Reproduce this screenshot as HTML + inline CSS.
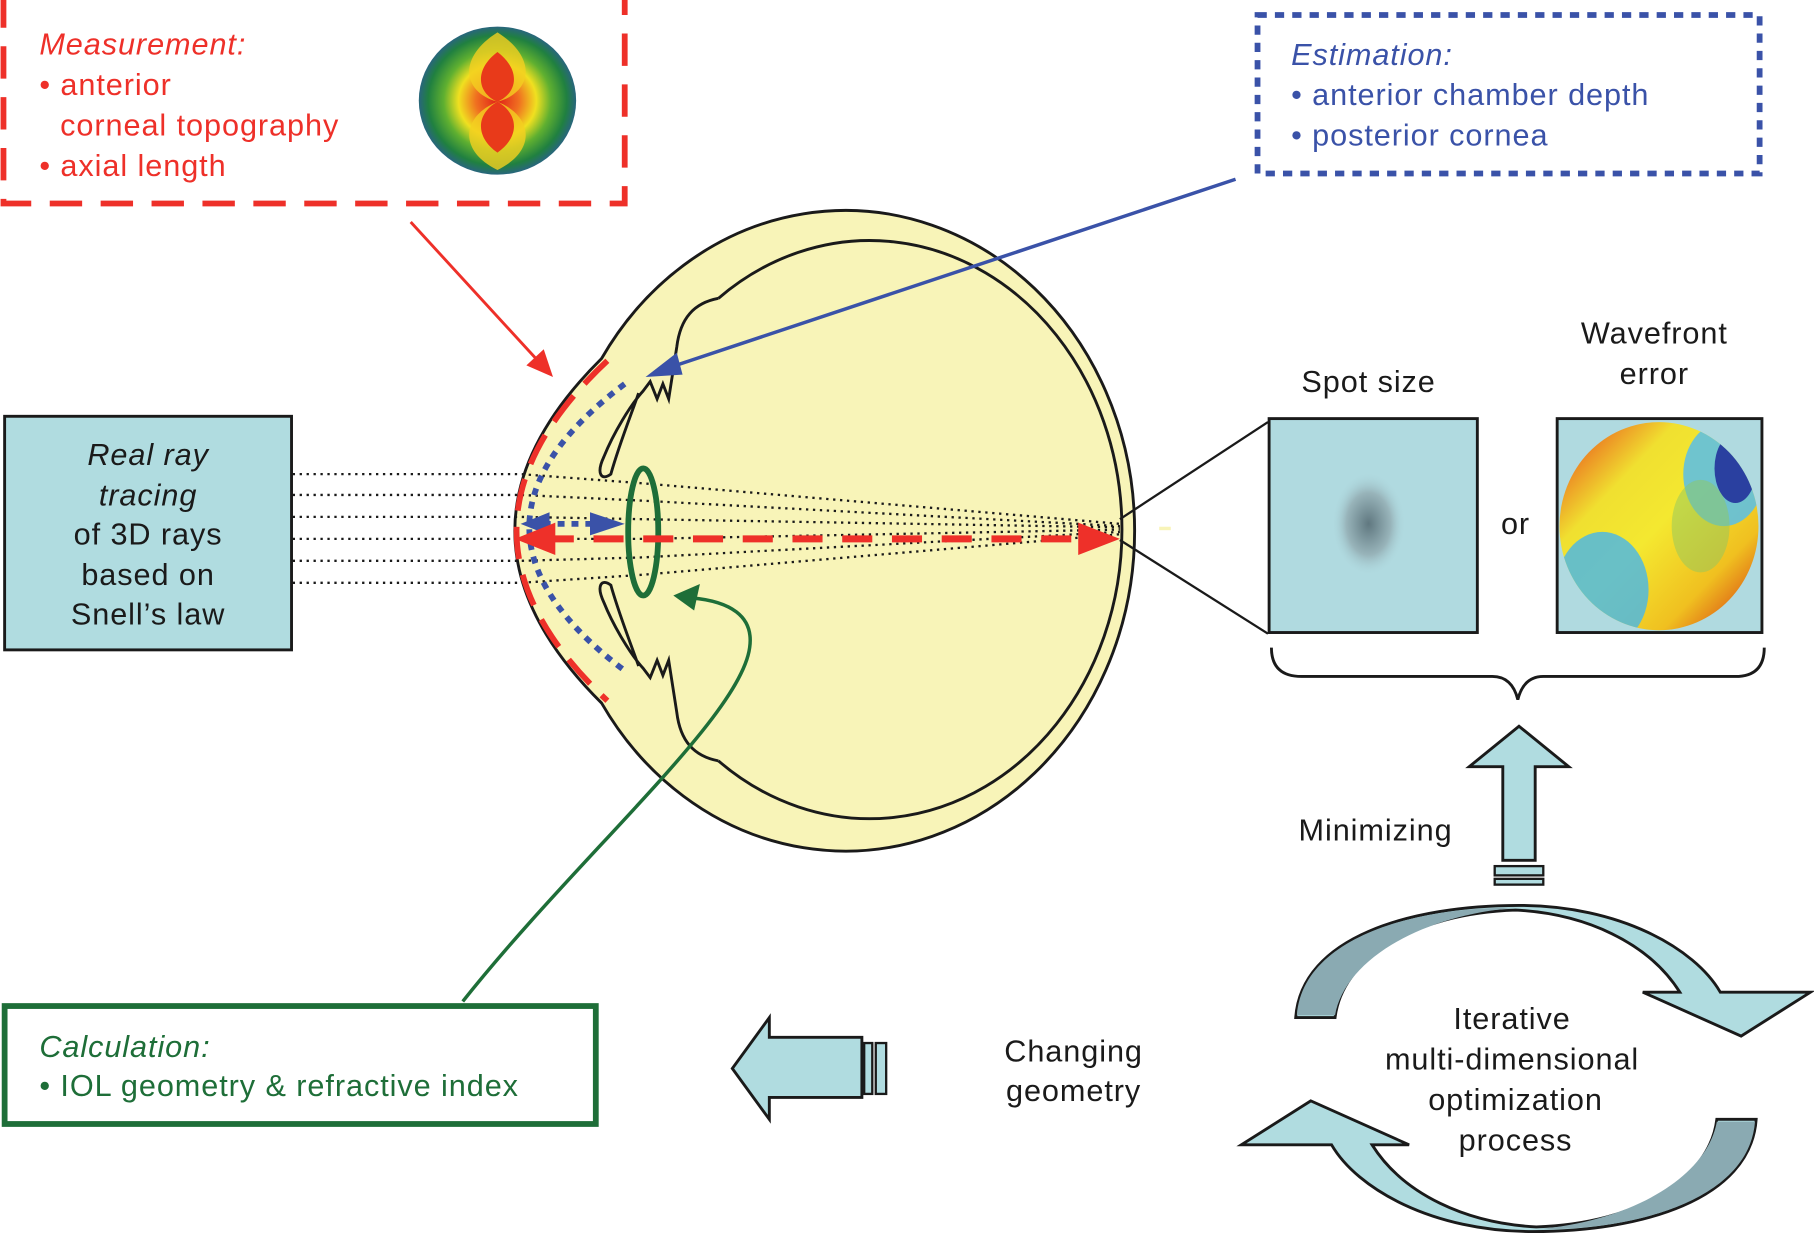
<!DOCTYPE html>
<html><head><meta charset="utf-8"><style>
html,body{margin:0;padding:0;background:#fff;}
svg{display:block;}
text{font-family:"Liberation Sans",Arial,sans-serif;letter-spacing:0.8px;}
</style></head><body>
<svg width="1814" height="1235" viewBox="0 0 1568 1068" preserveAspectRatio="none" xmlns="http://www.w3.org/2000/svg">
<defs>
<radialGradient id="topo" cx="50%" cy="50%" r="55%">
<stop offset="0" stop-color="#e02018"/><stop offset="0.25" stop-color="#f07020"/><stop offset="0.45" stop-color="#f0e020"/><stop offset="0.62" stop-color="#60b030"/><stop offset="0.8" stop-color="#208040"/><stop offset="1" stop-color="#3050b0"/>
</radialGradient>
<linearGradient id="wf" x1="0" y1="0" x2="1" y2="1">
<stop offset="0" stop-color="#e83018"/><stop offset="0.3" stop-color="#f0e030"/><stop offset="0.5" stop-color="#f4e830"/><stop offset="0.75" stop-color="#f0c020"/><stop offset="1" stop-color="#d02010"/>
</linearGradient>
<radialGradient id="spot" cx="50%" cy="50%" r="50%"><stop offset="0" stop-color="#607880"/><stop offset="0.6" stop-color="#98b4ba"/><stop offset="1" stop-color="#b0dae0" stop-opacity="0"/></radialGradient>
</defs>

<!-- Measurement box -->
<rect x="3" y="-6" width="537" height="182" fill="none" stroke="#ee3029" stroke-width="5" stroke-dasharray="28,16"/>
<g font-size="26.5" fill="#ee3029">
<text x="34" y="47" font-style="italic">Measurement:</text>
<text x="34" y="82">• anterior</text>
<text x="52" y="117">corneal topography</text>
<text x="34" y="152">• axial length</text>
</g>
<ellipse cx="430" cy="87" rx="68" ry="64" fill="url(#topo)"/>
<path d="M430,28 C395,50 400,80 430,88 C400,100 395,130 430,147 C465,130 460,100 430,88 C460,80 465,50 430,28z" fill="#f4d020" opacity="0.8"/>
<path d="M430,45 C410,60 412,80 430,88 C412,98 410,118 430,132 C450,118 448,98 430,88 C448,80 450,60 430,45z" fill="#e83a1a"/>

<!-- Estimation box -->
<rect x="1087" y="13" width="434" height="137" fill="none" stroke="#3a52a8" stroke-width="5" stroke-dasharray="8,7"/>
<g font-size="26.5" fill="#3a52a8">
<text x="1116" y="56" font-style="italic">Estimation:</text>
<text x="1116" y="91">• anterior chamber depth</text>
<text x="1116" y="126">• posterior cornea</text>
</g>

<!-- Eye -->
<path d="M520,310 A250,277 0 1 1 520,608 Q370,459 520,310z" fill="#f8f4b8" stroke="#1a1a1a" stroke-width="2.5"/>
<path d="M621,258 A218,250 0 1 1 621,658" fill="none" stroke="#1a1a1a" stroke-width="2.5"/>
<path d="M621,258 C600,262 588,275 585,300 L578,345 L573,332 L568,345 L562,330 L556,338 C545,350 530,375 522,395 C515,410 520,416 528,410 C535,385 545,360 552,340" fill="none" stroke="#1a1a1a" stroke-width="2.5"/>
<path d="M621,658 C600,654 588,641 585,616 L578,571 L573,584 L568,571 L562,586 L556,578 C545,566 530,541 522,521 C515,506 520,500 528,506 C535,531 545,556 552,576" fill="none" stroke="#1a1a1a" stroke-width="2.5"/>

<!-- rays -->
<g stroke="#1a1a1a" stroke-width="2" stroke-dasharray="2,4" fill="none">
<path d="M253,410 L450,410 L556,418 L968,453"/>
<path d="M253,428 L450,428 L556,433 L968,455"/>
<path d="M253,447 L450,447 L556,449 L968,456"/>
<path d="M253,466 L450,466 L556,466 L968,458"/>
<path d="M253,485 L450,485 L556,482 L968,460"/>
<path d="M253,504 L450,504 L556,497 L968,462"/>
</g>

<path d="M525,312 Q368,459 525,606" fill="none" stroke="#ee3029" stroke-width="5" stroke-dasharray="28,14"/>
<path d="M540,332 Q375,456 540,580" fill="none" stroke="#3a52a8" stroke-width="5" stroke-dasharray="6,6"/>

<ellipse cx="556" cy="460" rx="13" ry="55" fill="none" stroke="#1e6e38" stroke-width="5"/>

<line x1="470" y1="453" x2="515" y2="453" stroke="#3a52a8" stroke-width="5" stroke-dasharray="6,6"/>
<path d="M450,453 L475,443 L475,463z" fill="#3a52a8"/>
<path d="M540,453 L510,443 L510,463z" fill="#3a52a8"/>

<line x1="470" y1="466" x2="940" y2="466" stroke="#ee3029" stroke-width="6" stroke-dasharray="26,17"/>
<path d="M445,466 L480,452 L480,480z" fill="#ee3029"/>
<path d="M968,466 L932,452 L932,480z" fill="#ee3029"/>

<line x1="355" y1="192" x2="465" y2="312" stroke="#ee3029" stroke-width="2.5"/>
<path d="M478,326 L455,316 L470,302z" fill="#ee3029"/>
<line x1="1068" y1="155" x2="578" y2="318" stroke="#3a52a8" stroke-width="3"/>
<path d="M558,326 L585,305 L590,324z" fill="#3a52a8"/>
<path d="M400,866 C500,740 640,620 648,560 C652,532 630,520 598,517" fill="none" stroke="#1e6e38" stroke-width="3"/>
<path d="M582,515 L605,505 L600,528z" fill="#1e6e38"/>

<!-- Real ray tracing box -->
<rect x="4" y="360" width="248" height="202" fill="#b0dce0" stroke="#1a1a1a" stroke-width="2.5"/>
<g font-size="26.5" fill="#1a1a1a" text-anchor="middle">
<text x="128" y="402" font-style="italic">Real ray</text>
<text x="128" y="437" font-style="italic">tracing</text>
<text x="128" y="471">of 3D rays</text>
<text x="128" y="506">based on</text>
<text x="128" y="540">Snell’s law</text>
</g>

<line x1="968" y1="449" x2="1096" y2="365" stroke="#1a1a1a" stroke-width="2"/>
<line x1="968" y1="467" x2="1096" y2="548" stroke="#1a1a1a" stroke-width="2"/>
<line x1="1002" y1="457" x2="1012" y2="457" stroke="#f8f4b8" stroke-width="3"/>

<text x="1183" y="339" font-size="26.5" text-anchor="middle" fill="#1a1a1a">Spot size</text>
<rect x="1097" y="362" width="180" height="185" fill="#b0dae0" stroke="#1a1a1a" stroke-width="2.5"/>
<ellipse cx="1183" cy="453" rx="32" ry="45" fill="url(#spot)"/>
<text x="1310" y="462" font-size="26.5" text-anchor="middle" fill="#1a1a1a">or</text>
<text x="1430" y="297" font-size="26.5" text-anchor="middle" fill="#1a1a1a">Wavefront</text>
<text x="1430" y="332" font-size="26.5" text-anchor="middle" fill="#1a1a1a">error</text>
<rect x="1346" y="362" width="177" height="185" fill="#b0dae0" stroke="#1a1a1a" stroke-width="2.5"/>
<clipPath id="wc"><ellipse cx="1434" cy="455" rx="86" ry="90"/></clipPath>
<g clip-path="url(#wc)">
<rect x="1346" y="362" width="177" height="185" fill="url(#wf)"/>
<ellipse cx="1490" cy="410" rx="35" ry="45" fill="#60c0e0" opacity="0.9"/>
<ellipse cx="1500" cy="405" rx="18" ry="30" fill="#2a40a0"/>
<ellipse cx="1385" cy="510" rx="40" ry="50" fill="#50b8e0" opacity="0.85"/>
<ellipse cx="1470" cy="455" rx="25" ry="40" fill="#90c860" opacity="0.5"/>
</g>
<path d="M1099,560 Q1099,585 1125,585 L1290,585 Q1307,585 1312,605 Q1317,585 1334,585 L1500,585 Q1525,585 1525,560" fill="none" stroke="#1a1a1a" stroke-width="2.5"/>

<path d="M1299,744 L1299,663 L1270,663 L1313,628 L1356,663 L1327,663 L1327,744z" fill="#b0dce0" stroke="#1a1a1a" stroke-width="2.5"/>
<rect x="1292" y="749" width="42" height="8" fill="#b0dce0" stroke="#1a1a1a" stroke-width="2"/>
<rect x="1292" y="760" width="42" height="5" fill="#b0dce0" stroke="#1a1a1a" stroke-width="2"/>
<text x="1189" y="727" font-size="26.5" text-anchor="middle" fill="#1a1a1a">Minimizing</text>

<g id="ca">
<path d="M1120,880 C1125,810 1220,783 1313,783 C1400,783 1465,820 1487,858 L1565,858 L1505,896 L1420,858 L1452,858 C1425,815 1370,790 1310,787 C1220,790 1160,830 1154,880z" fill="#b0dce0" stroke="#1a1a1a" stroke-width="2.5"/>
<path d="M1121,878 C1126,812 1220,784 1310,785 C1225,792 1162,832 1154,878z" fill="#8aaab2"/>
</g>
<use href="#ca" transform="rotate(180 1319 924)"/>
<g font-size="26.5" text-anchor="middle" fill="#1a1a1a">
<text x="1307" y="890">Iterative</text>
<text x="1307" y="925">multi-dimensional</text>
<text x="1310" y="960">optimization</text>
<text x="1310" y="995">process</text>
</g>

<path d="M745,897 L665,897 L665,880 L633,924 L665,968 L665,949 L745,949z" fill="#b0dce0" stroke="#1a1a1a" stroke-width="2.5"/>
<rect x="747" y="902" width="7" height="44" fill="#b0dce0" stroke="#1a1a1a" stroke-width="2"/>
<rect x="757" y="902" width="9" height="44" fill="#b0dce0" stroke="#1a1a1a" stroke-width="2"/>
<text x="928" y="918" font-size="26.5" text-anchor="middle" fill="#1a1a1a">Changing</text>
<text x="928" y="952" font-size="26.5" text-anchor="middle" fill="#1a1a1a">geometry</text>

<rect x="4" y="870" width="511" height="102" fill="#fff" stroke="#1e6e38" stroke-width="5"/>
<text x="34" y="914" font-size="26.5" font-style="italic" fill="#1e6e38">Calculation:</text>
<text x="34" y="948" font-size="26.5" fill="#1e6e38">• IOL geometry &amp; refractive index</text>
</svg>
</body></html>
